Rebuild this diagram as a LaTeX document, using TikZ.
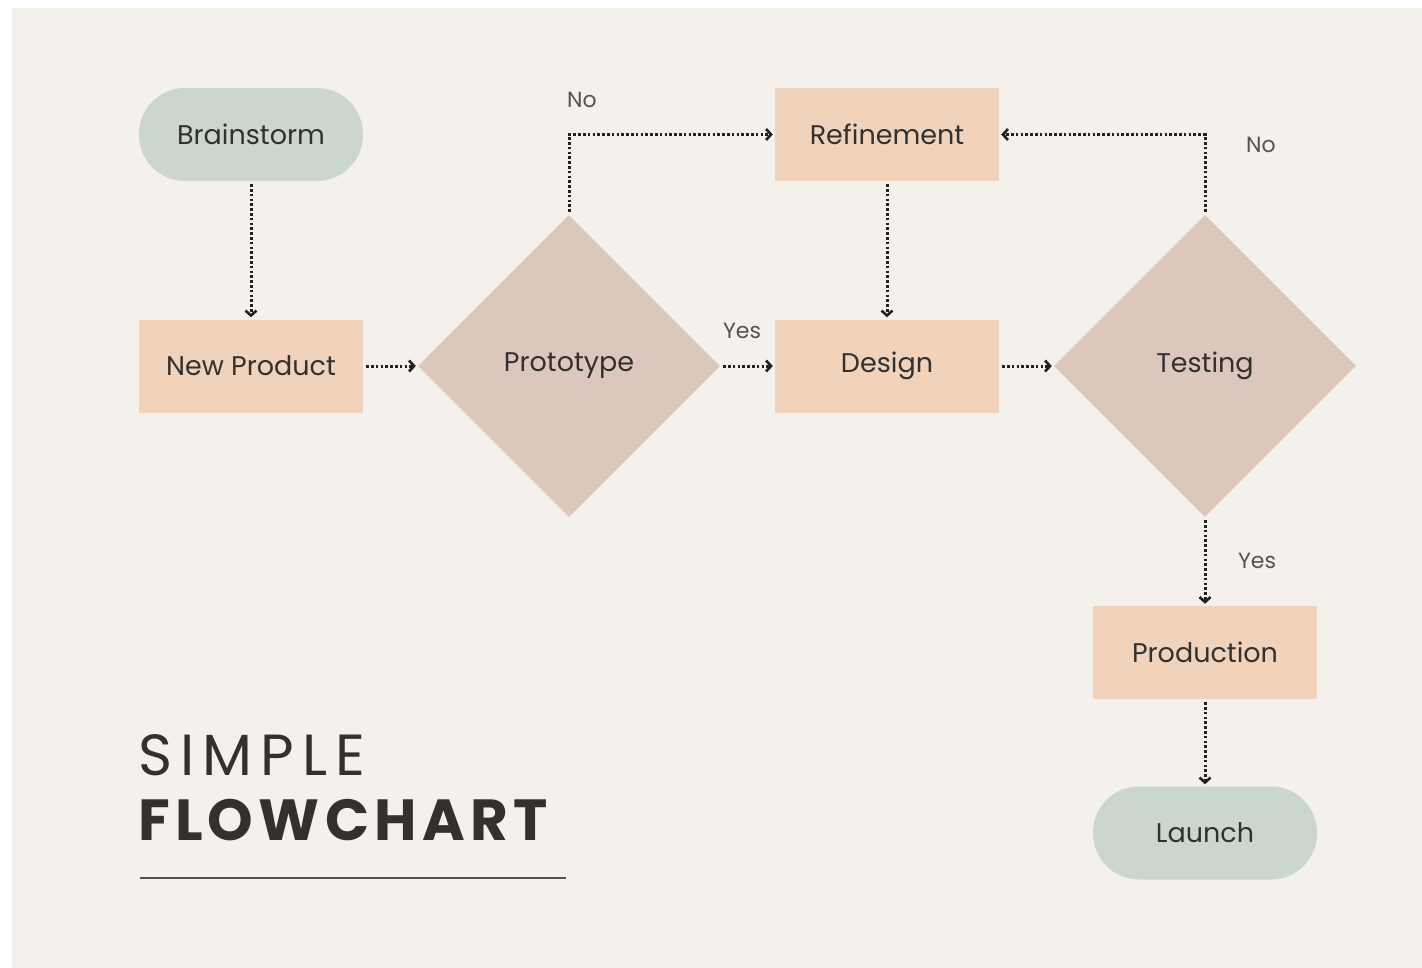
\documentclass[tikz,border=0pt]{standalone}
\usepackage{fontspec}
\setmainfont{Poppins}
\usetikzlibrary{shapes.geometric,arrows.meta}
\definecolor{bgc}{HTML}{F4F0EB}
\definecolor{greenc}{HTML}{CBD7CD}
\definecolor{peachc}{HTML}{F1D3BC}
\definecolor{diac}{HTML}{DCC7BD}
\definecolor{txtc}{HTML}{33312F}
\definecolor{lblc}{HTML}{555350}
\definecolor{linec}{HTML}{222020}
\tikzset{
  nodefont/.style={text=txtc, font=\fontsize{27}{30}\selectfont},
  term/.style={rectangle, rounded corners=46pt, fill=greenc, minimum width=224pt, minimum height=93pt, inner sep=0pt, nodefont},
  proc/.style={rectangle, fill=peachc, minimum width=224pt, minimum height=93pt, inner sep=0pt, nodefont},
  decis/.style={diamond, aspect=1, fill=diac, minimum width=302pt, minimum height=302pt, inner sep=0pt, nodefont},
  flow/.style={draw=linec, line width=3pt, dash pattern=on 2.6pt off 2.2pt, shorten <=3pt, shorten >=2pt,
    -{Straight Barb[length=5pt,width=11pt,line width=2.6pt]}},
  lbl/.style={text=lblc, font=\fontsize{22}{24}\selectfont, inner sep=0pt},
}
\begin{document}
\begin{tikzpicture}[x=1pt,y=-1pt]
\useasboundingbox (0,0) rectangle (1422,967);
\fill[white] (0,0) rectangle (1422,967);
\fill[bgc] (12,8) rectangle (1423,968);

\node[term] (brain) at (251,134.5) {Brainstorm};
\node[proc] (newp) at (251,366) {New Product};
\node[decis] (proto) at (569,366) {Prototype};
\node[proc] (design) at (887,366) {Design};
\node[proc] (refine) at (887,134.5) {Refinement};
\node[decis] (test) at (1205,366) {Testing};
\node[proc] (prod) at (1205,652.5) {Production};
\node[term] (launch) at (1205,833) {Launch};

\draw[flow] (brain) -- (newp);
\draw[flow] (newp) -- (proto);
\draw[flow] (proto) -- (design);
\draw[flow] (proto.north) |- (refine.west);
\draw[flow] (refine) -- (design);
\draw[flow] (design) -- (test);
\draw[flow] (test.north) |- (refine.east);
\draw[flow] (test) -- (prod);
\draw[flow] (prod) -- (launch);

\node[lbl] (l1) at (582,100) {No};
\node[lbl] (l2) at (742,331) {Yes};
\node[lbl] (l3) at (1261,145) {No};
\node[lbl] (l4) at (1257,561) {Yes};

\node[anchor=base west, inner sep=0pt, text=txtc, font=\fontsize{58}{60}\selectfont\addfontfeatures{LetterSpace=14}] (t1) at (138,775) {SIMPLE};
\node[anchor=base west, inner sep=0pt, text=txtc, font=\fontsize{58}{60}\selectfont\bfseries\addfontfeatures{LetterSpace=9}] (t2) at (138,840) {FLOWCHART};
\draw[lblc, line width=2.5pt] (140,878) -- (566,878);
\end{tikzpicture}
\end{document}
